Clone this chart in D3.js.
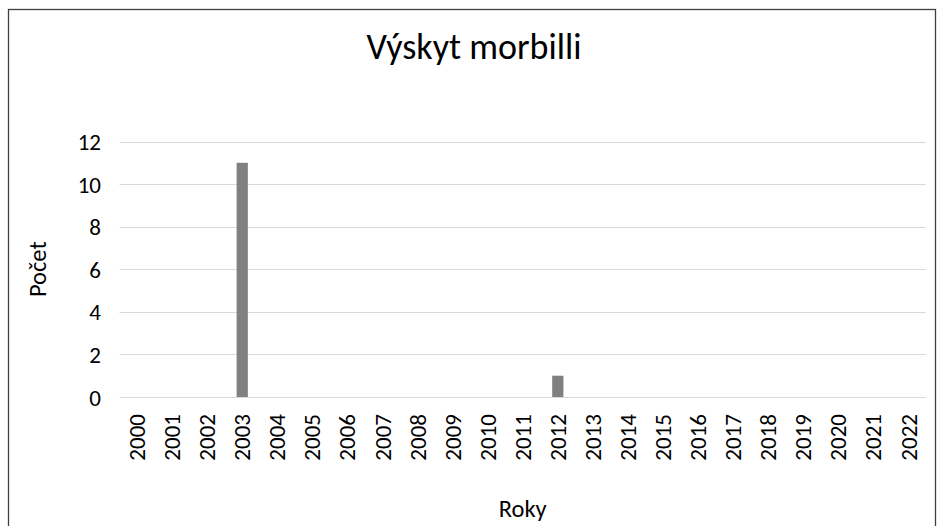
<!DOCTYPE html>
<html>
<head>
<meta charset="utf-8">
<script src="https://cdn.jsdelivr.net/npm/d3@7"></script>
<style>
	body { margin: 0; background: #fff; }
	text { font-family: Carlito, Calibri, "Open Sans", sans-serif; fill: #000; }
</style>
</head>
<body>
<div id="chart"></div>
<script>
	// data
	var years = ["2000", "2001", "2002", "2003", "2004", "2005", "2006", "2007", "2008", "2009", "2010",
		"2011", "2012", "2013", "2014", "2015", "2016", "2017", "2018", "2019", "2020", "2021", "2022"];
	var counts = [0, 0, 0, 11, 0, 0, 0, 0, 0, 0, 0, 0, 1, 0, 0, 0, 0, 0, 0, 0, 0, 0, 0];
	var yTicks = [0, 2, 4, 6, 8, 10, 12];

	var width = 939, height = 526;
	var margin = { left: 119.5, right: 13, top: 141.5, bottom: 129 };
	var tickFont = 23;

	var svg = d3.select("#chart").append("svg")
		.attr("width", width)
		.attr("height", height);

	// outer frame
	svg.append("rect")
		.attr("x", 8.5).attr("y", 9.5)
		.attr("width", 927).attr("height", 530)
		.attr("fill", "none")
		.attr("stroke", "#404040")
		.attr("stroke-width", 1.3);

	var x = d3.scaleBand()
		.domain(years)
		.range([margin.left, width - margin.right])
		.paddingInner(0.68)
		.paddingOuter(0.34);

	var y = d3.scaleLinear()
		.domain([0, 12])
		.range([height - margin.bottom, margin.top]);

	// gridlines
	svg.append("g")
		.selectAll("line")
		.data(yTicks)
		.enter().append("line")
		.attr("x1", margin.left).attr("x2", width - margin.right)
		.attr("y1", function(d) { return Math.round(y(d)) + 0.5; })
		.attr("y2", function(d) { return Math.round(y(d)) + 0.5; })
		.attr("stroke", "#d9d9d9")
		.attr("stroke-width", 1);

	// bars
	svg.append("g")
		.selectAll("rect")
		.data(counts)
		.enter().append("rect")
		.attr("x", function(d, i) { return x(years[i]); })
		.attr("y", function(d) { return y(d); })
		.attr("width", x.bandwidth())
		.attr("height", function(d) { return y(0) - y(d); })
		.attr("fill", "#808080");

	// y axis labels
	var yAxis = d3.axisLeft(y).tickValues(yTicks).tickSize(0).tickPadding(0);
	var gy = svg.append("g")
		.attr("transform", "translate(101,0)")
		.call(yAxis);
	gy.select(".domain").remove();
	gy.selectAll("text")
		.attr("font-size", tickFont)
		.attr("font-family", null)
		.attr("fill", "#000")
		.attr("dy", "0.35em");

	// x axis labels, rotated
	var xAxis = d3.axisBottom(x).tickSize(0).tickPadding(0);
	var gx = svg.append("g")
		.attr("transform", "translate(0," + (height - margin.bottom) + ")")
		.call(xAxis);
	gx.select(".domain").remove();
	gx.selectAll("text")
		.attr("font-size", tickFont)
		.attr("font-family", null)
		.attr("fill", "#000")
		.attr("transform", "rotate(-90)")
		.attr("text-anchor", "end")
		.attr("x", -17)
		.attr("y", 0)
		.attr("dy", "0.35em");

	// title, centred on the chart
	svg.append("text")
		.attr("x", 474).attr("y", 59)
		.attr("text-anchor", "middle")
		.attr("font-size", 36)
		.text("Výskyt morbilli");

	// axis titles, centred on the plot area
	svg.append("text")
		.attr("transform", "translate(46," + (margin.top + (height - margin.bottom)) / 2 + ") rotate(-90)")
		.attr("text-anchor", "middle")
		.attr("font-size", 24.5)
		.text("Počet");

	svg.append("text")
		.attr("x", (margin.left + width - margin.right) / 2).attr("y", 517)
		.attr("text-anchor", "middle")
		.attr("font-size", 24.5)
		.text("Roky");
</script>
</body>
</html>
